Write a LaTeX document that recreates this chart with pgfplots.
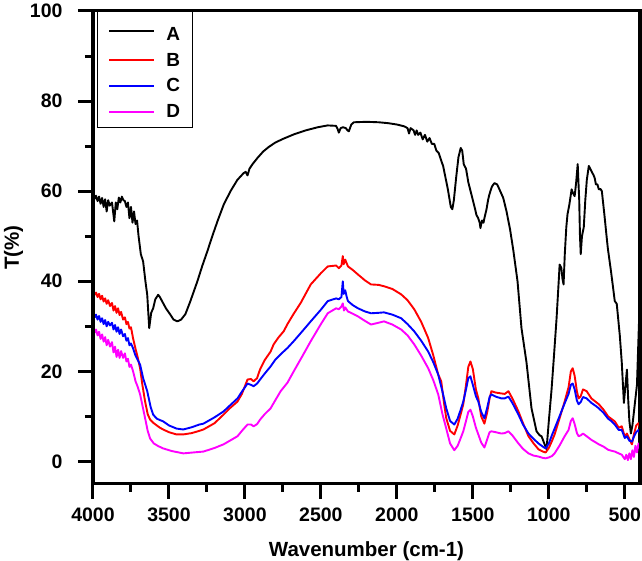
\documentclass[border=0pt]{standalone}
\usepackage{pgfplots}
\pgfplotsset{compat=1.18}
\usepackage{fontspec}
\setmainfont{Liberation Sans}
\usetikzlibrary{calc}
\definecolor{cA}{RGB}{0,0,0}
\definecolor{cB}{RGB}{255,0,0}
\definecolor{cC}{RGB}{0,0,255}
\definecolor{cD}{RGB}{255,0,255}

\begin{document}
\begin{tikzpicture}[font=\fontsize{19}{22}\selectfont\bfseries]
\begin{axis}[name=ax,
  scale only axis, width=547pt, height=473pt,
  x dir=reverse, xmin=400, xmax=4000, ymin=-5, ymax=100,
  xtick={500,1000,...,4000}, ytick={0,20,...,100},
  minor x tick num=1, minor y tick num=1,
  tick align=outside, xtick pos=bottom, ytick pos=left,
  major tick length=15pt, minor tick length=8pt,
  axis line style={line width=3pt},
  major tick style={line width=3pt, black},
  minor tick style={line width=3pt, black},
  /pgf/number format/assume math mode=true,
  /pgf/number format/set thousands separator={},
  ticklabel style={font=\fontsize{19.5}{22}\selectfont\bfseries},
  yticklabel style={xshift=-12pt},
  xticklabel style={yshift=-5pt},
  xlabel={Wavenumber (cm-1)}, ylabel={T(\%)},
  label style={font=\fontsize{20.5}{24}\selectfont\bfseries},
  xlabel style={yshift=-13pt},
  legend style={at={(0.007,1)}, anchor=north west, draw=black, line width=1pt,
    font=\fontsize{19}{22}\selectfont\bfseries, row sep=7pt, inner xsep=11pt, inner ysep=7pt},
  legend cell align=left,
  legend image code/.code={\draw[#1, line width=2pt] (0pt,0pt) -- (45pt,0pt); \path (54pt,0pt);},
  every axis plot/.append style={line width=1.9pt, line join=round},
]
\addplot[cA] coordinates {
(4000,58.7)(3990,58.3)(3980,59.0)(3970,57.8)(3960,58.8)(3950,57.2)(3940,58.5)(3930,56.5)(3920,58.2)(3910,55.5)(3900,58.0)(3890,56.8)(3875,57.5)(3860,53.3)(3850,57.5)(3840,56)(3830,58.6)(3820,57.5)(3810,58.8)(3800,58)(3790,57.8)(3780,56.5)(3770,57.5)(3760,54)(3750,56.5)(3740,53)(3730,55.5)(3720,52.7)(3710,53.5)(3700,50)(3685,46)(3670,44.4)(3655,40)(3643,37)(3630,29.6)(3617,33)(3604,34)(3590,36)(3571,37)(3560,36.5)(3544,35.5)(3520,34)(3491,32.6)(3470,31.5)(3445,31.1)(3420,31.5)(3392,32.7)(3360,35.5)(3313,40)(3280,43.5)(3247,46.7)(3215,50)(3181,53.3)(3140,57)(3095,60)(3050,62.5)(3009,64)(2995,64.3)(2983,63.5)(2970,65)(2950,66)(2917,67.4)(2880,68.8)(2844,69.8)(2800,70.8)(2750,71.6)(2679,72.6)(2600,73.5)(2520,74.2)(2455,74.6)(2400,74.5)(2390,73.8)(2382,73)(2370,74)(2355,74.2)(2336,74)(2325,73.5)(2316,73.3)(2300,74.8)(2283,75.3)(2200,75.4)(2120,75.3)(2058,75.1)(2000,74.8)(1952,74.4)(1930,74)(1920,72.8)(1910,74)(1890,73.5)(1880,72.5)(1870,73.5)(1860,72.5)(1845,73)(1830,71.5)(1815,72.5)(1800,71)(1785,71.8)(1770,70.5)(1754,70.5)(1740,69)(1725,68.5)(1710,67)(1695,65.5)(1680,63)(1665,60.5)(1655,58.5)(1645,56.5)(1635,56)(1625,58)(1610,63)(1595,67.5)(1580,69.6)(1570,69)(1560,66)(1545,65)(1530,62)(1515,60)(1500,58)(1485,56)(1477,54.8)(1465,54)(1455,53)(1450,51.8)(1440,53.5)(1430,53)(1424,54)(1410,56)(1400,58)(1391,59.3)(1375,61)(1358,61.8)(1340,61.5)(1325,60.4)(1300,58.5)(1279,55.6)(1255,51.5)(1233,46.7)(1206,40)(1180,29.6)(1147,22)(1114,11.8)(1081,6.7)(1060,5.8)(1048,5.6)(1030,4)(1015,2.7)(1000,9)(982,16)(965,24)(949,31.8)(935,40)(929,43.7)(918,43)(910,40.5)(903,39.3)(895,46)(885,52)(877,54.9)(865,57)(850,60.4)(840,59.5)(830,58.9)(820,62)(810,66)(800,58)(795,50)(790,46)(782,50)(770,52)(760,58)(750,62.5)(737,65.6)(720,64.5)(705,63.5)(698,62.9)(690,61.5)(680,61.5)(671,60.4)(660,60.5)(651,60)(635,55)(620,50)(612,47.4)(590,42)(566,35.6)(553,35)(533,28)(520,22)(506,13)(498,16)(486,20.4)(478,14)(470,9)(460,6.2)(450,8)(440,11)(420,17)(407,30.5)(400,33)
};
\addlegendentry{\rule{0pt}{20pt}A}
\addplot[cB] coordinates {
(4000,37.8)(3990,37.0)(3980,37.5)(3970,36.5)(3960,37.2)(3950,36.0)(3940,36.8)(3930,35.5)(3920,36.2)(3910,35.0)(3900,35.8)(3888,34.5)(3875,35.2)(3865,33.5)(3855,34.5)(3845,33.0)(3835,34.0)(3825,32.5)(3815,33.2)(3802,31.5)(3790,32.0)(3780,30.5)(3770,31)(3760,29.5)(3750,29.8)(3736,27.3)(3720,25)(3705,23)(3690,20.7)(3675,17)(3657,13.3)(3640,10.5)(3624,9.3)(3600,8.5)(3580,8.0)(3560,7.5)(3538,7.1)(3500,6.5)(3450,6.0)(3406,6.0)(3350,6.3)(3300,6.8)(3273,7.1)(3200,8.5)(3141,10.4)(3100,11.8)(3049,13.3)(3020,15)(2983,18.2)(2960,18.3)(2943,17.8)(2920,18.5)(2900,20.5)(2870,22.5)(2831,24.4)(2811,26)(2780,27.5)(2745,28.9)(2720,30.5)(2679,32.8)(2633,35.2)(2567,39.3)(2500,41.8)(2455,43.3)(2400,43.5)(2382,42.9)(2365,43.5)(2356,45.6)(2350,43.8)(2340,44.8)(2322,43.3)(2290,42.5)(2256,41.5)(2210,40.2)(2170,39.3)(2120,39.2)(2085,38.9)(2030,38.3)(1972,37.1)(1930,35.8)(1886,33.8)(1840,31)(1794,27.4)(1760,23.5)(1728,19.3)(1708,17.8)(1690,13)(1675,9.6)(1650,6.8)(1622,6.0)(1600,8)(1580,10.5)(1563,12.7)(1545,17)(1530,21)(1516,22.2)(1500,20.5)(1480,16)(1464,14)(1445,10)(1424,8.4)(1405,11)(1390,14)(1378,15.6)(1350,15.3)(1312,15.1)(1290,15)(1266,15.6)(1240,14)(1200,11.1)(1170,8.5)(1134,5.6)(1100,4)(1068,2.7)(1040,2.2)(1021,2.0)(1000,3)(980,4.5)(962,6.0)(930,9.5)(896,13.3)(870,16.5)(855,20)(843,20.7)(830,19)(815,15.5)(804,14)(790,14.5)(775,16)(751,15.6)(720,14)(690,13.2)(671,12.7)(640,11.5)(610,10)(590,9.5)(566,8.9)(540,7.5)(520,7.8)(500,5.5)(486,6.2)(470,5)(453,3.8)(440,6)(425,8)(410,8.5)(400,7.3)
};
\addlegendentry{B}
\addplot[cC] coordinates {
(4000,32.9)(3990,32.0)(3980,32.6)(3970,31.5)(3960,32.3)(3950,31.0)(3940,31.8)(3930,30.5)(3920,31.4)(3910,30.0)(3900,31.0)(3888,30.2)(3875,30.8)(3865,29.3)(3855,30.3)(3845,28.8)(3835,29.8)(3825,28.3)(3815,29.3)(3802,27.8)(3790,28.3)(3780,26.8)(3770,27.4)(3760,25.8)(3750,26.2)(3736,25.1)(3720,23.5)(3705,22.5)(3690,21.5)(3670,18.5)(3643,15.6)(3620,12)(3604,10.4)(3580,9.5)(3560,9.2)(3538,8.9)(3500,8.0)(3450,7.3)(3406,7.1)(3350,7.6)(3300,8.2)(3273,8.4)(3200,9.8)(3141,11.1)(3100,12.4)(3049,14)(3020,15.5)(2983,17.3)(2960,17)(2943,16.7)(2920,17.3)(2900,18.2)(2870,19.5)(2831,21.1)(2800,22.6)(2765,23.8)(2720,25.2)(2679,26.7)(2620,29)(2567,31.1)(2500,33.7)(2455,35.6)(2400,36.2)(2382,36)(2365,36.5)(2356,40)(2350,37.2)(2340,38)(2330,36.5)(2322,35.6)(2290,34.7)(2256,34)(2210,33.3)(2170,32.9)(2120,33.0)(2085,33.1)(2030,32.6)(1972,31.8)(1930,30.5)(1886,28.9)(1840,26.8)(1794,24.4)(1760,22)(1728,19.3)(1700,15.5)(1675,11.8)(1650,9)(1622,8.2)(1600,9.5)(1580,11.5)(1563,13.3)(1545,16)(1530,18.5)(1516,18.9)(1500,17)(1480,14.5)(1464,13.3)(1445,11)(1424,9.6)(1405,12)(1390,14.3)(1378,14.9)(1350,14.4)(1312,14)(1290,14)(1266,14.4)(1240,13)(1200,10.4)(1170,8.2)(1134,6.2)(1100,5)(1068,4)(1040,3.3)(1021,2.9)(1000,4)(980,5.8)(962,7.3)(930,10)(896,12.9)(870,15)(855,17)(843,17.3)(830,16)(815,13.5)(804,12.7)(790,13.2)(775,14.3)(751,14)(720,13)(690,12.3)(671,11.8)(640,10.8)(610,9.5)(590,9)(566,8.2)(540,7)(520,7)(500,5.2)(486,5.6)(470,4.6)(453,4.4)(440,5.5)(425,6.5)(410,7)(400,6.2)
};
\addlegendentry{C}
\addplot[cD] coordinates {
(4000,29.6)(3990,28.6)(3980,29.3)(3970,28.0)(3960,28.8)(3950,27.2)(3940,28.2)(3930,26.6)(3920,27.6)(3910,25.8)(3900,27.0)(3888,25.5)(3875,26.5)(3865,24.2)(3855,25.5)(3845,23.2)(3835,24.8)(3825,23.0)(3815,24.5)(3802,23.0)(3790,24.0)(3780,22.2)(3770,22.8)(3760,21)(3750,21.5)(3736,20)(3720,17.8)(3705,16.5)(3690,14.9)(3675,12.5)(3657,9.6)(3640,6.8)(3624,5.1)(3600,4.0)(3570,3.4)(3538,2.9)(3480,2.3)(3406,1.8)(3340,2.0)(3273,2.2)(3200,3.0)(3141,3.8)(3100,4.6)(3049,5.6)(3020,6.8)(2983,8.2)(2960,8.2)(2943,7.8)(2920,8.3)(2900,9.3)(2870,10.5)(2831,11.8)(2800,13.6)(2765,15.6)(2720,17.5)(2679,20)(2620,23.5)(2567,26.7)(2500,30.5)(2455,32.9)(2400,34)(2382,33.8)(2365,34.4)(2356,35.1)(2348,33.5)(2340,34.2)(2322,33.3)(2290,32.8)(2256,32.2)(2210,31.2)(2170,30.4)(2120,30.8)(2085,31.1)(2030,30.4)(1972,29.3)(1930,28)(1886,26)(1840,23.5)(1794,20.7)(1760,18)(1728,14.9)(1700,10.5)(1675,7.3)(1650,4)(1622,2.5)(1600,3.5)(1580,5.2)(1563,6.7)(1545,9)(1530,11)(1516,11.5)(1500,10)(1480,7.5)(1464,6)(1445,4.2)(1424,3.1)(1405,5)(1390,6.5)(1378,6.7)(1350,6.5)(1312,6.2)(1290,6.3)(1266,6.7)(1240,5.8)(1200,4)(1170,2.8)(1134,1.8)(1100,1.3)(1068,1.1)(1040,0.8)(1021,0.7)(1000,0.9)(980,1.2)(962,1.8)(930,3.5)(896,5.6)(870,7)(855,9)(843,9.6)(830,8.3)(815,6.3)(804,5.6)(790,5.8)(775,6.2)(751,5.6)(720,4.8)(690,4.2)(671,3.8)(640,3.3)(610,2.6)(590,2.4)(566,2.2)(540,1.8)(520,1.5)(500,0.5)(490,1.5)(480,0.3)(470,1.8)(460,0.5)(450,2.5)(440,1.0)(430,3.5)(420,2.0)(410,4)(400,2.9)
};
\addlegendentry{D}
\end{axis}
\draw[line width=3pt, line cap=rect] (ax.south west) rectangle (ax.north east);
\pgfresetboundingbox
\path[use as bounding box] ($(ax.south west)+(-93pt,-77pt)$) rectangle ($(ax.north east)+(2pt,11pt)$);
\end{tikzpicture}
\end{document}
